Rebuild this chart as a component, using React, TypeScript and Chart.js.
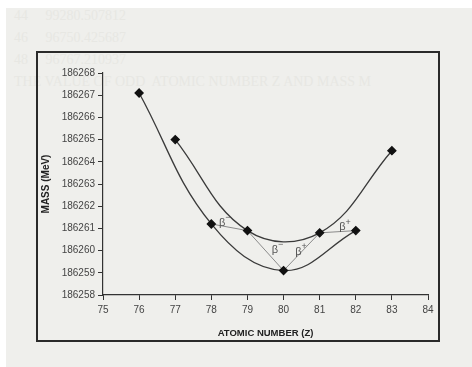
import React, { useEffect, useRef } from "react";
import { Chart, registerables } from "chart.js";

Chart.register(...registerables);

// ---- data ----
const evenZ = [76, 78, 80, 82];
const evenMass = [186267.1, 186261.2, 186259.1, 186260.9];
const oddZ = [77, 79, 81, 83];
const oddMass = [186265.0, 186260.9, 186260.8, 186264.5];
const decayPathZ = [78, 79, 80, 81, 82];
const betaText = ["β", "β", "β", "β"];
const betaSign = ["−", "−", "+", "+"];
const betaZ = [78.3, 79.76, 80.41, 81.63];
const betaMass = [186261.25, 186260.03, 186259.95, 186261.05];
const xTicks = [75, 76, 77, 78, 79, 80, 81, 82, 83, 84];
const yTicks = [186258, 186259, 186260, 186261, 186262, 186263, 186264, 186265, 186266, 186267, 186268];
const xTitle = "ATOMIC NUMBER (Z)";
const yTitle = "MASS (MeV)";
const ghostLines = [
  "44     99280.507812",
  "46     96750.425687",
  "48     96767.210937",
  "THE VALUE OF ODD  ATOMIC NUMBER Z AND MASS M",
];

const FONT = '"Liberation Sans", Arial, sans-serif';

function massOf(z: number): number {
  const ie = evenZ.indexOf(z);
  if (ie >= 0) return evenMass[ie];
  const io = oddZ.indexOf(z);
  return oddMass[io];
}

const betaPlugin = {
  id: "betaLabels",
  afterDatasetsDraw(chart: any) {
    const { ctx, scales } = chart;
    const xs = scales.x;
    const ys = scales.y;
    ctx.save();
    ctx.fillStyle = "#555";
    betaZ.forEach((z, i) => {
      const px = xs.getPixelForValue(z);
      const py = ys.getPixelForValue(betaMass[i]);
      ctx.font = `11px ${FONT}`;
      ctx.textAlign = "center";
      ctx.textBaseline = "middle";
      ctx.fillText(betaText[i], px, py);
      const w = ctx.measureText(betaText[i]).width;
      ctx.font = `9px ${FONT}`;
      ctx.textAlign = "left";
      ctx.fillText(betaSign[i], px + w / 2, py - 5);
    });
    ctx.restore();
  },
};

export default function App() {
  const canvasRef = useRef<HTMLCanvasElement | null>(null);

  useEffect(() => {
    const canvas = canvasRef.current;
    if (!canvas) return;
    const tickFont = { size: 10, family: FONT };
    const chart = new Chart(canvas, {
      type: "line",
      data: {
        datasets: [
          {
            label: "Even Z",
            data: evenZ.map((z, i) => ({ x: z, y: evenMass[i] })),
            borderColor: "#3a3a3a",
            borderWidth: 1.3,
            tension: 0.4,
            pointStyle: "rectRot",
            pointRadius: 4,
            pointBackgroundColor: "#111",
            pointBorderColor: "#111",
            fill: false,
          },
          {
            label: "Odd Z",
            data: oddZ.map((z, i) => ({ x: z, y: oddMass[i] })),
            borderColor: "#3a3a3a",
            borderWidth: 1.3,
            tension: 0.4,
            pointStyle: "rectRot",
            pointRadius: 4,
            pointBackgroundColor: "#111",
            pointBorderColor: "#111",
            fill: false,
          },
          {
            label: "Decay",
            data: decayPathZ.map((z) => ({ x: z, y: massOf(z) })),
            borderColor: "#8a8a8a",
            borderWidth: 1,
            tension: 0,
            pointRadius: 0,
            fill: false,
          },
        ],
      },
      options: {
        animation: false,
        responsive: false,
        devicePixelRatio: 1,
        layout: { padding: { left: 36, right: 44, top: 73, bottom: 25 } },
        plugins: { legend: { display: false }, tooltip: { enabled: false } },
        scales: {
          x: {
            type: "linear",
            min: 75,
            max: 84,
            afterBuildTicks: (s: any) => {
              s.ticks = xTicks.map((v) => ({ value: v }));
            },
            afterFit: (s: any) => {
              s.height = 47;
            },
            ticks: {
              color: "#444",
              font: tickFont,
              padding: 4,
              maxRotation: 0,
              autoSkip: false,
              callback: (v: any) => String(v),
            },
            grid: { drawOnChartArea: false, drawTicks: true, tickLength: 5, color: "#333" },
            border: { display: true, color: "#333", width: 1.2 },
            title: {
              display: true,
              text: xTitle,
              color: "#222",
              font: { size: 9.5, weight: "bold", family: FONT },
              padding: { top: 0, bottom: 3 },
            },
          },
          y: {
            type: "linear",
            min: 186258,
            max: 186268,
            afterBuildTicks: (s: any) => {
              s.ticks = yTicks.map((v) => ({ value: v }));
            },
            afterFit: (s: any) => {
              s.width = 67;
            },
            ticks: {
              color: "#444",
              font: tickFont,
              padding: 3,
              autoSkip: false,
              callback: (v: any) => String(v),
            },
            grid: { drawOnChartArea: false, drawTicks: true, tickLength: 5, color: "#333" },
            border: { display: true, color: "#333", width: 1.2 },
            title: {
              display: true,
              text: yTitle,
              color: "#222",
              font: { size: 10, weight: "bold", family: FONT },
              padding: { top: 4, bottom: 0 },
            },
          },
        },
      },
      plugins: [betaPlugin],
    } as any);
    return () => chart.destroy();
  }, []);

  return (
    <div
      style={{
        position: "absolute",
        left: 0,
        top: 0,
        width: 472,
        height: 367,
        background: "#ffffff",
        overflow: "hidden",
      }}
    >
      <div
        style={{
          position: "absolute",
          left: 6,
          top: 8,
          width: 466,
          height: 359,
          background: "#efefec",
        }}
      />
      {ghostLines.map((t, i) => (
        <div
          key={i}
          style={{
            position: "absolute",
            left: 14,
            top: 8 + i * 22,
            fontFamily: '"Liberation Serif", serif',
            fontSize: 14,
            color: "#e7e7e3",
            whiteSpace: "pre",
          }}
        >
          {t}
        </div>
      ))}
      <div
        style={{
          position: "absolute",
          left: 36,
          top: 51,
          width: 404,
          height: 291,
          border: "2px solid #2a2a2a",
          boxSizing: "border-box",
        }}
      />
      <canvas
        ref={canvasRef}
        width={472}
        height={367}
        style={{ position: "absolute", left: 0, top: 0, width: 472, height: 367 }}
      />
    </div>
  );
}
